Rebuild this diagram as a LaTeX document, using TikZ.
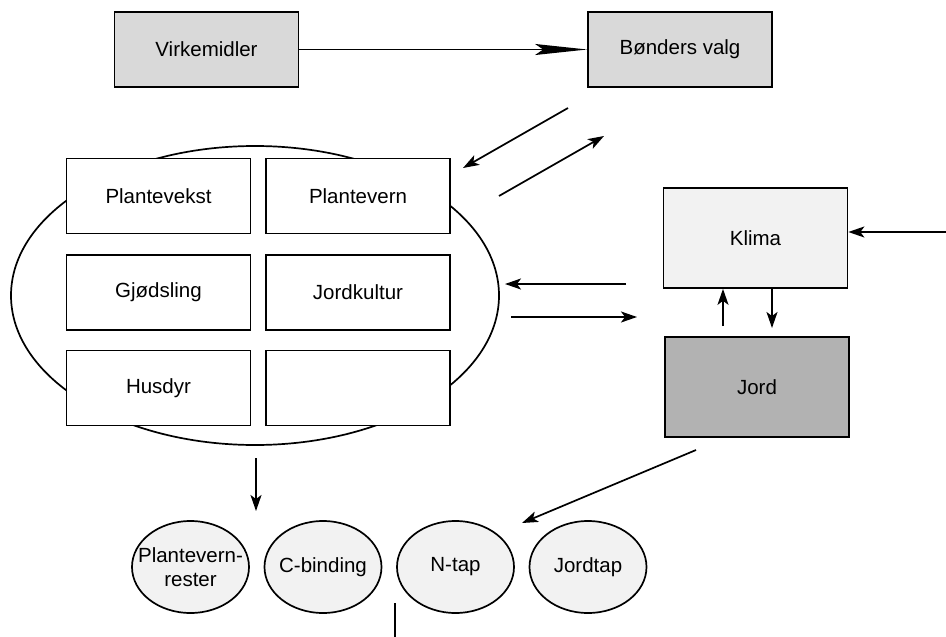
\documentclass[tikz,border=0pt]{standalone}
\usepackage{fontspec}
\setmainfont{Liberation Sans}
\usetikzlibrary{arrows.meta,shapes.geometric}

\begin{document}
\begin{tikzpicture}[x=1pt,y=-1pt,>={Stealth[length=16pt,width=11pt,inset=4pt]},
        line width=1.7pt,font=\fontsize{20.5}{24}\selectfont,
        box/.style={draw,rectangle,fill=white,inner sep=0pt,
          minimum width=184pt,minimum height=75pt},
        blob/.style={draw,ellipse,fill=gray!10,inner sep=-20pt,align=center,
          minimum width=117pt,minimum height=92pt}]
  \useasboundingbox (0,0) rectangle (946,637);

  % top row
  \node[box,fill=gray!30] (virk) at (206.5,49.5) {Virkemidler};
  \node[box,fill=gray!30] (valg) at (680,49.5) {Bønders valg};

  % farm system
  \node[draw,ellipse,minimum width=488pt,minimum height=299pt] (farm) at (255,295.5) {};
  \node[box] (vekst) at (158.5,196) {Plantevekst};
  \node[box] (vern) at (358,196) {Plantevern};
  \node[box] (gjod) at (158.5,292.5) {Gjødsling};
  \node[box] (kult) at (358,292.5) {Jordkultur};
  \node[box] (dyr) at (158.5,388) {Husdyr};
  \node[box] (tom) at (358,388) {};

  % environment
  \node[box,fill=gray!10,minimum height=100pt] (klima) at (755.5,238) {Klima};
  \node[box,fill=gray!60,minimum height=100pt] (jord) at (757,387) {Jord};

  % effects
  \node[blob] (rester) at (190.5,567) {Plantevern-\\rester};
  \node[blob] (cbind) at (323,567) {C-binding};
  \node[blob] (ntap) at (455.5,567) {N-tap};
  \node[blob] (jtap) at (588,567) {Jordtap};

  % free ends
  \coordinate (d1s) at (568,108);
  \coordinate (d1e) at (463,168);
  \coordinate (d2s) at (499,196);
  \coordinate (d2e) at (604,136);
  \coordinate (h1s) at (626,284);
  \coordinate (h1e) at (505,284);
  \coordinate (h2s) at (511,317);
  \coordinate (h2e) at (637,317);
  \coordinate (up) at (723,326);
  \coordinate (dn) at (772,328);
  \coordinate (sun) at (946,232);
  \coordinate (outs) at (256,458);
  \coordinate (oute) at (256,511);
  \coordinate (lose) at (696,450);
  \coordinate (losee) at (522,523);
  \coordinate (stub) at (395,603);
  \coordinate (stube) at (395,637);

  \draw[-{Stealth[length=52pt,width=11pt,inset=8pt]}] (virk) -- (valg);
  \draw[->] (d1s) -- (d1e);
  \draw[->] (d2s) -- (d2e);
  \draw[->] (h1s) -- (h1e);
  \draw[->] (h2s) -- (h2e);
  \draw[->] (up) -- (up |- klima.south);
  \draw[->] (dn |- klima.south) -- (dn);
  \draw[->] (sun) -- (sun -| klima.east);
  \draw[->] (outs) -- (oute);
  \draw[->] (lose) -- (losee);
  \draw (stub) -- (stube);
\end{tikzpicture}
\end{document}
